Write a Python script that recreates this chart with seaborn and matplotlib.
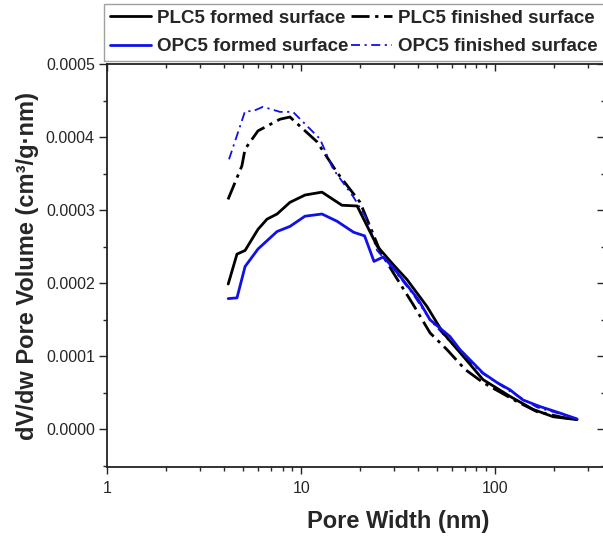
import numpy as np
import pandas as pd
import matplotlib
matplotlib.use("Agg")
import matplotlib.pyplot as plt
import seaborn as sns
from matplotlib.ticker import FixedLocator, MultipleLocator, FormatStrFormatter, LogLocator, NullFormatter

# ---------------- data (pore width in nm, dV/dw in cm3/g.nm) ----------------
w_plc_formed = [4.2, 4.66, 5.13, 5.98, 6.66, 7.5, 8.74, 10.45, 12.78, 16.2, 19.4, 24.6, 29.7, 35.1,
                44.5, 53.8, 65.8, 86.4, 119, 157, 199, 264]
v_plc_formed = [0.000199, 0.000240, 0.000245, 0.000274, 0.000288, 0.000295, 0.000311, 0.000321,
                0.000325, 0.000307, 0.000306, 0.000251, 0.000226, 0.000205, 0.000168, 0.000132,
                0.000105, 0.000068, 0.000045, 0.000027, 0.000017, 0.000013]

w_opc_formed = [4.2, 4.66, 5.13, 5.98, 7.5, 8.74, 10.45, 12.78, 15.3, 18.6, 21.2, 23.7, 26.4, 29.7,
                40.0, 46.1, 58.4, 65.8, 86.4, 102, 119, 139, 170, 216, 264]
v_opc_formed = [0.000179, 0.000180, 0.000223, 0.000247, 0.000271, 0.000278, 0.000292, 0.000295,
                0.000285, 0.000270, 0.000265, 0.000230, 0.000236, 0.000222, 0.000178, 0.000150,
                0.000127, 0.000109, 0.000077, 0.000064, 0.000054, 0.000040, 0.000031, 0.000022,
                0.000014]

w_plc_finished = [4.19, 4.94, 5.13, 5.98, 7.77, 8.74, 12.05, 15.28, 20.1, 25.5, 29.7, 37.7, 46.1,
                  56.4, 69.8, 86.4, 129, 164, 224, 264]
v_plc_finished = [0.000315, 0.000361, 0.000384, 0.000409, 0.000425, 0.000428, 0.000394, 0.000352,
                  0.000311, 0.000244, 0.000215, 0.000171, 0.000132, 0.000109, 0.000082, 0.000064,
                  0.000038, 0.000024, 0.000016, 0.000013]

w_opc_finished = [4.24, 5.13, 5.63, 6.35, 7.77, 9.06, 12.48, 14.56, 18.5, 21.8, 24.6, 29.7, 37.7,
                  46.1, 58.4, 69.8, 86.4, 119, 164, 216, 264]
v_opc_finished = [0.000370, 0.000436, 0.000436, 0.000442, 0.000435, 0.000435, 0.000398, 0.000357,
                  0.000319, 0.000288, 0.000245, 0.000220, 0.000185, 0.000150, 0.000120, 0.000098,
                  0.000076, 0.000052, 0.000030, 0.000021, 0.000014]

labels = ["PLC5 formed surface", "OPC5 formed surface",
          "PLC5 finished surface", "OPC5 finished surface"]
x_tick_values = [1, 10, 100]

# ---------------- style ----------------
sns.set_style("ticks")
plt.rcParams["font.family"] = ["Liberation Sans", "DejaVu Sans"]

BLUE = "#1010e8"
styles = {
    labels[0]: dict(color="black", lw=2.0, ls="-"),
    labels[1]: dict(color=BLUE, lw=2.0, ls="-"),
    labels[2]: dict(color="black", lw=2.0, ls=(0, (6.5, 2, 1.2, 2))),
    labels[3]: dict(color=BLUE, lw=1.3, ls=(0, (5, 2.5, 1.2, 2.5))),
}
series = {
    labels[0]: (w_plc_formed, v_plc_formed),
    labels[1]: (w_opc_formed, v_opc_formed),
    labels[2]: (w_plc_finished, v_plc_finished),
    labels[3]: (w_opc_finished, v_opc_finished),
}

fig = plt.figure(figsize=(6.03, 5.37), dpi=100)
ax = fig.add_axes([0.178, 0.1298, 0.965, 0.7501])

for lab in [labels[2], labels[3], labels[0], labels[1]]:
    w, v = series[lab]
    df = pd.DataFrame({"w": w, "v": v})
    st = styles[lab]
    sns.lineplot(data=df, x="w", y="v", ax=ax, color=st["color"], linewidth=st["lw"],
                 linestyle=st["ls"], label=lab, sort=False, estimator=None)

ax.set_xscale("log")
ax.set_xlim(1, 1000)
ax.set_ylim(-0.0000523, 0.0005)

ax.xaxis.set_major_locator(FixedLocator(x_tick_values))
ax.xaxis.set_major_formatter(FormatStrFormatter("%g"))
ax.xaxis.set_minor_locator(LogLocator(base=10, subs=np.arange(2, 10)))
ax.xaxis.set_minor_formatter(NullFormatter())
ax.yaxis.set_major_locator(MultipleLocator(0.0001))
ax.yaxis.set_minor_locator(MultipleLocator(0.00005))
ax.yaxis.set_major_formatter(FormatStrFormatter("%.4f"))

for s in ax.spines.values():
    s.set_linewidth(1.3)
    s.set_color("#222222")
ax.tick_params(axis="both", which="major", labelsize=11.5, width=1.0, color="#222222")
ax.tick_params(axis="x", which="major", length=5, direction="out", pad=5, top=True)
ax.tick_params(axis="x", which="minor", length=3, width=1.0, direction="out", top=True)
ax.tick_params(axis="y", which="major", length=6, direction="out", pad=3)
ax.tick_params(axis="y", which="minor", length=3, width=1.0, direction="out")
for t in ax.xaxis.get_major_ticks() + ax.xaxis.get_minor_ticks():
    t.tick2line.set_marker(3)  # top ticks point inward

ax.set_xlabel("Pore Width (nm)", fontsize=17, fontweight="bold", labelpad=10)
ax.set_ylabel("dV/dw Pore Volume (cm³/g·nm)", fontsize=17, fontweight="bold", labelpad=5)

h, l = ax.get_legend_handles_labels()
order = [l.index(x) for x in labels]
ax.get_legend().remove()
leg = fig.legend([h[i] for i in order], [l[i] for i in order], ncol=2,
                 loc="upper left", bbox_to_anchor=(104 / 603, 1 - 4 / 537),
                 prop={"weight": "bold", "size": 13.5}, frameon=True, fancybox=False,
                 edgecolor="#888888", handlelength=2.2, handletextpad=0.35,
                 columnspacing=0.1, labelspacing=0.6, borderpad=0.3, borderaxespad=0)
leg.get_frame().set_linewidth(1.0)

# neighbouring panel's left-axis ticks peeking in at the right edge
ax2 = fig.add_axes([605 / 603, 0.1298, 0.3, 0.7501])
ax2.set_ylim(-0.0000523, 0.0005)
ax2.patch.set_alpha(0)
for k in ["top", "right", "bottom"]:
    ax2.spines[k].set_visible(False)
ax2.set_xticks([])
ax2.yaxis.set_major_locator(MultipleLocator(0.0001))
ax2.yaxis.set_minor_locator(MultipleLocator(0.00005))
ax2.tick_params(axis="y", which="major", length=6, width=1.0, direction="out", labelleft=False)
ax2.tick_params(axis="y", which="minor", length=3, width=1.0, direction="out")

fig.savefig("out.png", dpi=100)
